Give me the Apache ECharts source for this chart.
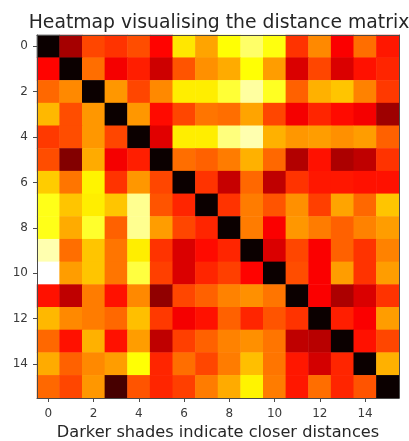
<!DOCTYPE html>
<html><head><meta charset="utf-8">
<style>html,body{margin:0;padding:0;background:#fff}#c{width:409px;height:441px}</style>
<script src="https://cdn.jsdelivr.net/npm/echarts@6/dist/echarts.min.js"></script>
</head><body><div id="c"></div>
<script>
const labels = ['0','1','2','3','4','5','6','7','8','9','10','11','12','13','14','15'];
const row0  = [0,.23,.47,.44,.48,.37,.71,.61,.75,.85,.76,.44,.57,.36,.53,.40];
const row1  = [.37,0,.53,.35,.41,.29,.49,.58,.62,.75,.60,.31,.47,.31,.39,.42];
const row2  = [.52,.57,0,.59,.47,.57,.72,.72,.80,.905,.78,.51,.63,.66,.56,.45];
const row3  = [.64,.48,.59,0,.59,.38,.47,.54,.53,.61,.47,.35,.42,.38,.35,.22];
const row4  = [.45,.48,.59,.47,0,.32,.72,.72,.87,.92,.63,.59,.60,.58,.60,.51];
const row5  = [.48,.18,.62,.35,.41,0,.53,.51,.55,.63,.52,.25,.39,.24,.27,.44];
const row6  = [.67,.54,.73,.44,.59,.47,0,.44,.28,.52,.27,.44,.40,.40,.39,.39];
const row7  = [.77,.66,.72,.66,.89,.49,.42,0,.44,.55,.49,.58,.46,.61,.52,.66];
const row8  = [.77,.62,.79,.51,.89,.60,.47,.42,0,.55,.36,.59,.55,.51,.56,.60];
const row9  = [.92,.53,.66,.54,.72,.44,.31,.38,.42,0,.31,.47,.36,.51,.44,.56];
const row10 = [1,.60,.66,.54,.81,.46,.31,.42,.46,.37,0,.48,.36,.60,.44,.60];
const row11 = [.39,.27,.55,.39,.57,.20,.47,.51,.56,.58,.54,0,.36,.24,.31,.44];
const row12 = [.64,.57,.55,.52,.65,.45,.35,.39,.51,.42,.49,.44,0,.41,.36,.60];
const row13 = [.52,.39,.63,.39,.60,.27,.46,.51,.56,.58,.54,.27,.26,0,.39,.47];
const row14 = [.62,.51,.57,.60,.75,.42,.53,.47,.55,.65,.54,.40,.30,.42,0,.63];
const row15 = [.52,.47,.59,.09,.49,.42,.46,.55,.62,.73,.55,.40,.53,.42,.49,0];
const rows = [row0,row1,row2,row3,row4,row5,row6,row7,row8,row9,row10,row11,row12,row13,row14,row15];

const cells = [];
rows.forEach((r,y)=>r.forEach((v,x)=>cells.push([x,y,v])));

// matplotlib "hot" colour map
function hot(t){
  const c=v=>Math.round(255*Math.max(0,Math.min(1,v)));
  const R=0.0416+t*(1-0.0416)/0.365, G=(t-0.365)/(0.746-0.365), B=(t-0.746)/(1-0.746);
  return `rgb(${c(R)},${c(G)},${c(B)})`;
}
const palette=[]; for(let i=0;i<=128;i++) palette.push(hot(i/128));

const font='"DejaVu Sans"', ink='#262626', line='#4a4a4a';
const chart=echarts.init(document.getElementById('c'),null,{renderer:'canvas'});
const mkAxis=(pos,show,margin)=>({type:'category',data:labels,position:pos,z:5,
  axisLine:{show:true,onZero:false,lineStyle:{color:line,width:1}},
  axisTick:{show:show,alignWithLabel:true,interval:1,length:4,lineStyle:{color:line}},
  axisLabel:{show:show,interval:1,fontFamily:font,fontSize:12,color:'#3a3a3a',margin:margin},
  splitLine:{show:false},splitArea:{show:false}});
const xMain=mkAxis('bottom',true,10);
xMain.name='Darker shades indicate closer distances';
xMain.nameLocation='middle';xMain.nameGap=25;
xMain.nameTextStyle={fontFamily:font,fontSize:16.2,color:ink};
const mkY=(pos,show)=>Object.assign(mkAxis(pos,show,9),{inverse:true});
chart.setOption({
  animation:false,backgroundColor:'#fff',
  title:{text:'Heatmap visualising the distance matrix',left:214,top:9,textAlign:'center',
    textStyle:{fontFamily:font,fontSize:18.8,fontWeight:'normal',color:ink}},
  grid:{left:37,top:35,right:10,bottom:43,outerBoundsMode:'none'},
  xAxis:[xMain,mkAxis('top',false,0)],
  yAxis:[mkY('left',true),mkY('right',false)],
  visualMap:{show:false,min:0,max:1,dimension:2,inRange:{color:palette}},
  series:[{type:'heatmap',data:cells,itemStyle:{borderWidth:0},emphasis:{disabled:true},progressive:0}]
});
</script></body></html>
